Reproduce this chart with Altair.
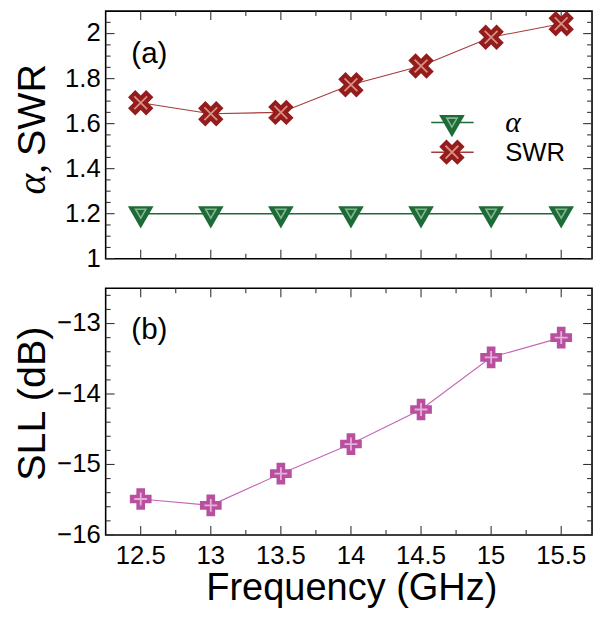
import altair as alt
import pandas as pd

# ---------------- data ----------------
freq = [12.5, 13.0, 13.5, 14.0, 14.5, 15.0, 15.5]
alpha = [1.2, 1.2, 1.2, 1.2, 1.2, 1.2, 1.2]
swr = [1.693, 1.644, 1.650, 1.773, 1.856, 1.984, 2.044]
sll = [-15.49, -15.58, -15.13, -14.71, -14.22, -13.48, -13.20]

x_major = [12.5, 13.0, 13.5, 14.0, 14.5, 15.0, 15.5]
x_minor = [12.75, 13.25, 13.75, 14.25, 14.75, 15.25]
y_top_major = [1.0, 1.2, 1.4, 1.6, 1.8, 2.0]
y_top_minor = [1.05, 1.1, 1.15, 1.25, 1.3, 1.35, 1.45, 1.5, 1.55, 1.65, 1.7, 1.75,
               1.85, 1.9, 1.95, 2.05]
y_bot_major = [-16, -15, -14, -13]
y_bot_minor = [-15.8, -15.6, -15.4, -15.2, -14.8, -14.6, -14.4, -14.2,
               -13.8, -13.6, -13.4, -13.2, -12.8, -12.6]

legend_labels = ["\u03b1", "SWR"]
panel_labels = ["(a)", "(b)"]
top_title = ["\u03b1,", "SWR"]
bot_title = "SLL (dB)"
x_title = "Frequency (GHz)"

df = pd.DataFrame({"freq": freq, "alpha": alpha, "swr": swr, "sll": sll})
one = pd.DataFrame({"k": [0]})

# ---------------- style ----------------
W, H1, H2 = 493, 251, 250
SANS = "Liberation Sans"
SERIF = "Liberation Serif"
GREEN, GREEN_L = "#1d6b36", "#86b592"
RED, RED_L = "#951c1c", "#d99080"
MAG, MAG_L = "#b8509f", "#e6b0dc"
TICK = "#333333"
MAJ, MIN = 9, 5
LBL = 26

xs = alt.Scale(domain=[12.25, 15.72], nice=False, zero=False)
ys_top = alt.Scale(domain=[1.0, 2.1], nice=False, zero=False)
ys_bot = alt.Scale(domain=[-16.0, -12.5], nice=False, zero=False)

X_CROSS = "M-1,-1L1,1M1,-1L-1,1"
PLUS = "M-1,0L1,0M0,-1L0,1"


def ticks(yscale, ymaj, ymin, H):
    layers = []
    for vals, L in ((ymaj, MAJ), (ymin, MIN)):
        d = pd.DataFrame({"v": vals})
        base = alt.Chart(d).mark_rule(color=TICK, strokeWidth=1.1)
        layers.append(base.encode(y=alt.Y("v:Q", scale=yscale, axis=None),
                                  x=alt.value(0), x2=alt.value(L)))
        layers.append(base.encode(y=alt.Y("v:Q", scale=yscale, axis=None),
                                  x=alt.value(W), x2=alt.value(W - L)))
    for vals, L in ((x_major, MAJ), (x_minor, MIN)):
        d = pd.DataFrame({"v": vals})
        base = alt.Chart(d).mark_rule(color=TICK, strokeWidth=1.1)
        layers.append(base.encode(x=alt.X("v:Q", scale=xs, axis=None),
                                  y=alt.value(0), y2=alt.value(L)))
        layers.append(base.encode(x=alt.X("v:Q", scale=xs, axis=None),
                                  y=alt.value(H), y2=alt.value(H - L)))
    return layers


def ylabels(vals, yscale):
    return alt.Chart(pd.DataFrame({"v": vals})).mark_text(
        font=SANS, fontSize=LBL, align="right", baseline="middle", color="black"
    ).encode(y=alt.Y("v:Q", scale=yscale, axis=None), x=alt.value(-5),
             text=alt.Text("v:Q", format="~g"))


def xlabels(vals, H):
    return alt.Chart(pd.DataFrame({"v": vals})).mark_text(
        font=SANS, fontSize=LBL, align="center", baseline="alphabetic", color="black"
    ).encode(x=alt.X("v:Q", scale=xs, axis=None), y=alt.value(H + 29),
             text=alt.Text("v:Q", format="~g"))


def txt(text, x, y, size, font=SANS, align="left", baseline="alphabetic",
        angle=0, style="normal", color="black"):
    return alt.Chart(one).mark_text(
        text=text, font=font, fontSize=size, align=align, baseline=baseline,
        angle=angle, fontStyle=style, color=color
    ).encode(x=alt.value(x), y=alt.value(y))


# ---------------- top panel ----------------
base_top = alt.Chart(df)
xt = alt.X("freq:Q", scale=xs, axis=None)

a_line = base_top.mark_line(color=GREEN, strokeWidth=1.5).encode(
    x=xt, y=alt.Y("alpha:Q", scale=ys_top, axis=None))
s_line = base_top.mark_line(color="#a53a3a", strokeWidth=1.1).encode(
    x=xt, y=alt.Y("swr:Q", scale=ys_top, axis=None))
a_pt = base_top.mark_point(shape="triangle-down", filled=True, size=676,
                           color=GREEN, opacity=1, yOffset=3.7).encode(
    x=xt, y=alt.Y("alpha:Q", scale=ys_top, axis=None))
a_in = base_top.mark_point(shape="triangle-down", filled=False, size=110,
                           color=GREEN_L, strokeWidth=1.6, opacity=1).encode(
    x=xt, y=alt.Y("alpha:Q", scale=ys_top, axis=None))
s_pt = base_top.mark_point(shape="cross", angle=45, filled=True, size=676,
                           color=RED, opacity=1).encode(
    x=xt, y=alt.Y("swr:Q", scale=ys_top, axis=None))
s_in = base_top.mark_point(shape=X_CROSS, filled=False, size=169,
                           color=RED_L, strokeWidth=1.8, opacity=1).encode(
    x=xt, y=alt.Y("swr:Q", scale=ys_top, axis=None))

# legend (inside plot)
lg_a_line = alt.Chart(one).mark_rule(color=GREEN, strokeWidth=1.5).encode(
    x=alt.value(330), x2=alt.value(373), y=alt.value(113))
lg_s_line = alt.Chart(one).mark_rule(color="#a53a3a", strokeWidth=1.5).encode(
    x=alt.value(330), x2=alt.value(373), y=alt.value(143))
lg_a_pt = alt.Chart(one).mark_point(shape="triangle-down", filled=True, size=676,
                                    color=GREEN, opacity=1, yOffset=3.7).encode(
    x=alt.value(351), y=alt.value(113))
lg_a_in = alt.Chart(one).mark_point(shape="triangle-down", filled=False, size=110,
                                    color=GREEN_L, strokeWidth=1.6, opacity=1).encode(
    x=alt.value(351), y=alt.value(113))
lg_s_pt = alt.Chart(one).mark_point(shape="cross", angle=45, filled=True, size=676,
                                    color=RED, opacity=1).encode(
    x=alt.value(351), y=alt.value(143))
lg_s_in = alt.Chart(one).mark_point(shape=X_CROSS, filled=False, size=169,
                                    color=RED_L, strokeWidth=1.8, opacity=1).encode(
    x=alt.value(351), y=alt.value(143))
lg_a_txt = txt(legend_labels[0], 405, 123, 30, font=SERIF, style="italic")
lg_s_txt = txt(legend_labels[1], 405, 152, 26)

lab_a = txt(panel_labels[0], 26, 53, 30)
yt1 = txt(top_title[0], -62, 155, 40, font=SERIF, style="italic",
          align="right", angle=270)
yt2 = txt(top_title[1], -62, 147, 40, align="left", angle=270)

top = alt.layer(
    a_line, s_line, *ticks(ys_top, y_top_major, y_top_minor, H1),
    ylabels(y_top_major, ys_top),
    a_pt, a_in, s_pt, s_in,
    lg_a_line, lg_s_line, lg_a_pt, lg_a_in, lg_s_pt, lg_s_in, lg_a_txt, lg_s_txt,
    lab_a, yt1, yt2,
).properties(width=W, height=H1)

# ---------------- bottom panel ----------------
base_bot = alt.Chart(df)
xb = alt.X("freq:Q", scale=xs, axis=None)
l_line = base_bot.mark_line(color="#c565b6", strokeWidth=1.1).encode(
    x=xb, y=alt.Y("sll:Q", scale=ys_bot, axis=None))
l_pt = base_bot.mark_point(shape="cross", filled=True, size=484, color=MAG,
                           opacity=1).encode(
    x=xb, y=alt.Y("sll:Q", scale=ys_bot, axis=None))
l_in = base_bot.mark_point(shape=PLUS, filled=False, size=169, color=MAG_L,
                           strokeWidth=1.8, opacity=1).encode(
    x=xb, y=alt.Y("sll:Q", scale=ys_bot, axis=None))
lab_b = txt(panel_labels[1], 26, 51, 30)
yt3 = txt(bot_title, -62, 117, 40, align="center", angle=270)
xt_txt = txt(x_title, W / 2 + 3, H2 + 66, 38.5, align="center")

bottom = alt.layer(
    l_line, *ticks(ys_bot, y_bot_major, y_bot_minor, H2),
    ylabels(y_bot_major, ys_bot), xlabels(x_major, H2),
    l_pt, l_in, lab_b, yt3, xt_txt,
).properties(width=W, height=H2)

chart = alt.vconcat(top, bottom, spacing=30, bounds="flush").properties(
    padding={"left": 4, "top": -3, "right": 0, "bottom": 0}
).configure_view(stroke="black", strokeWidth=1.6)

chart.save("out.html", embed_options={"renderer": "svg", "actions": False})
